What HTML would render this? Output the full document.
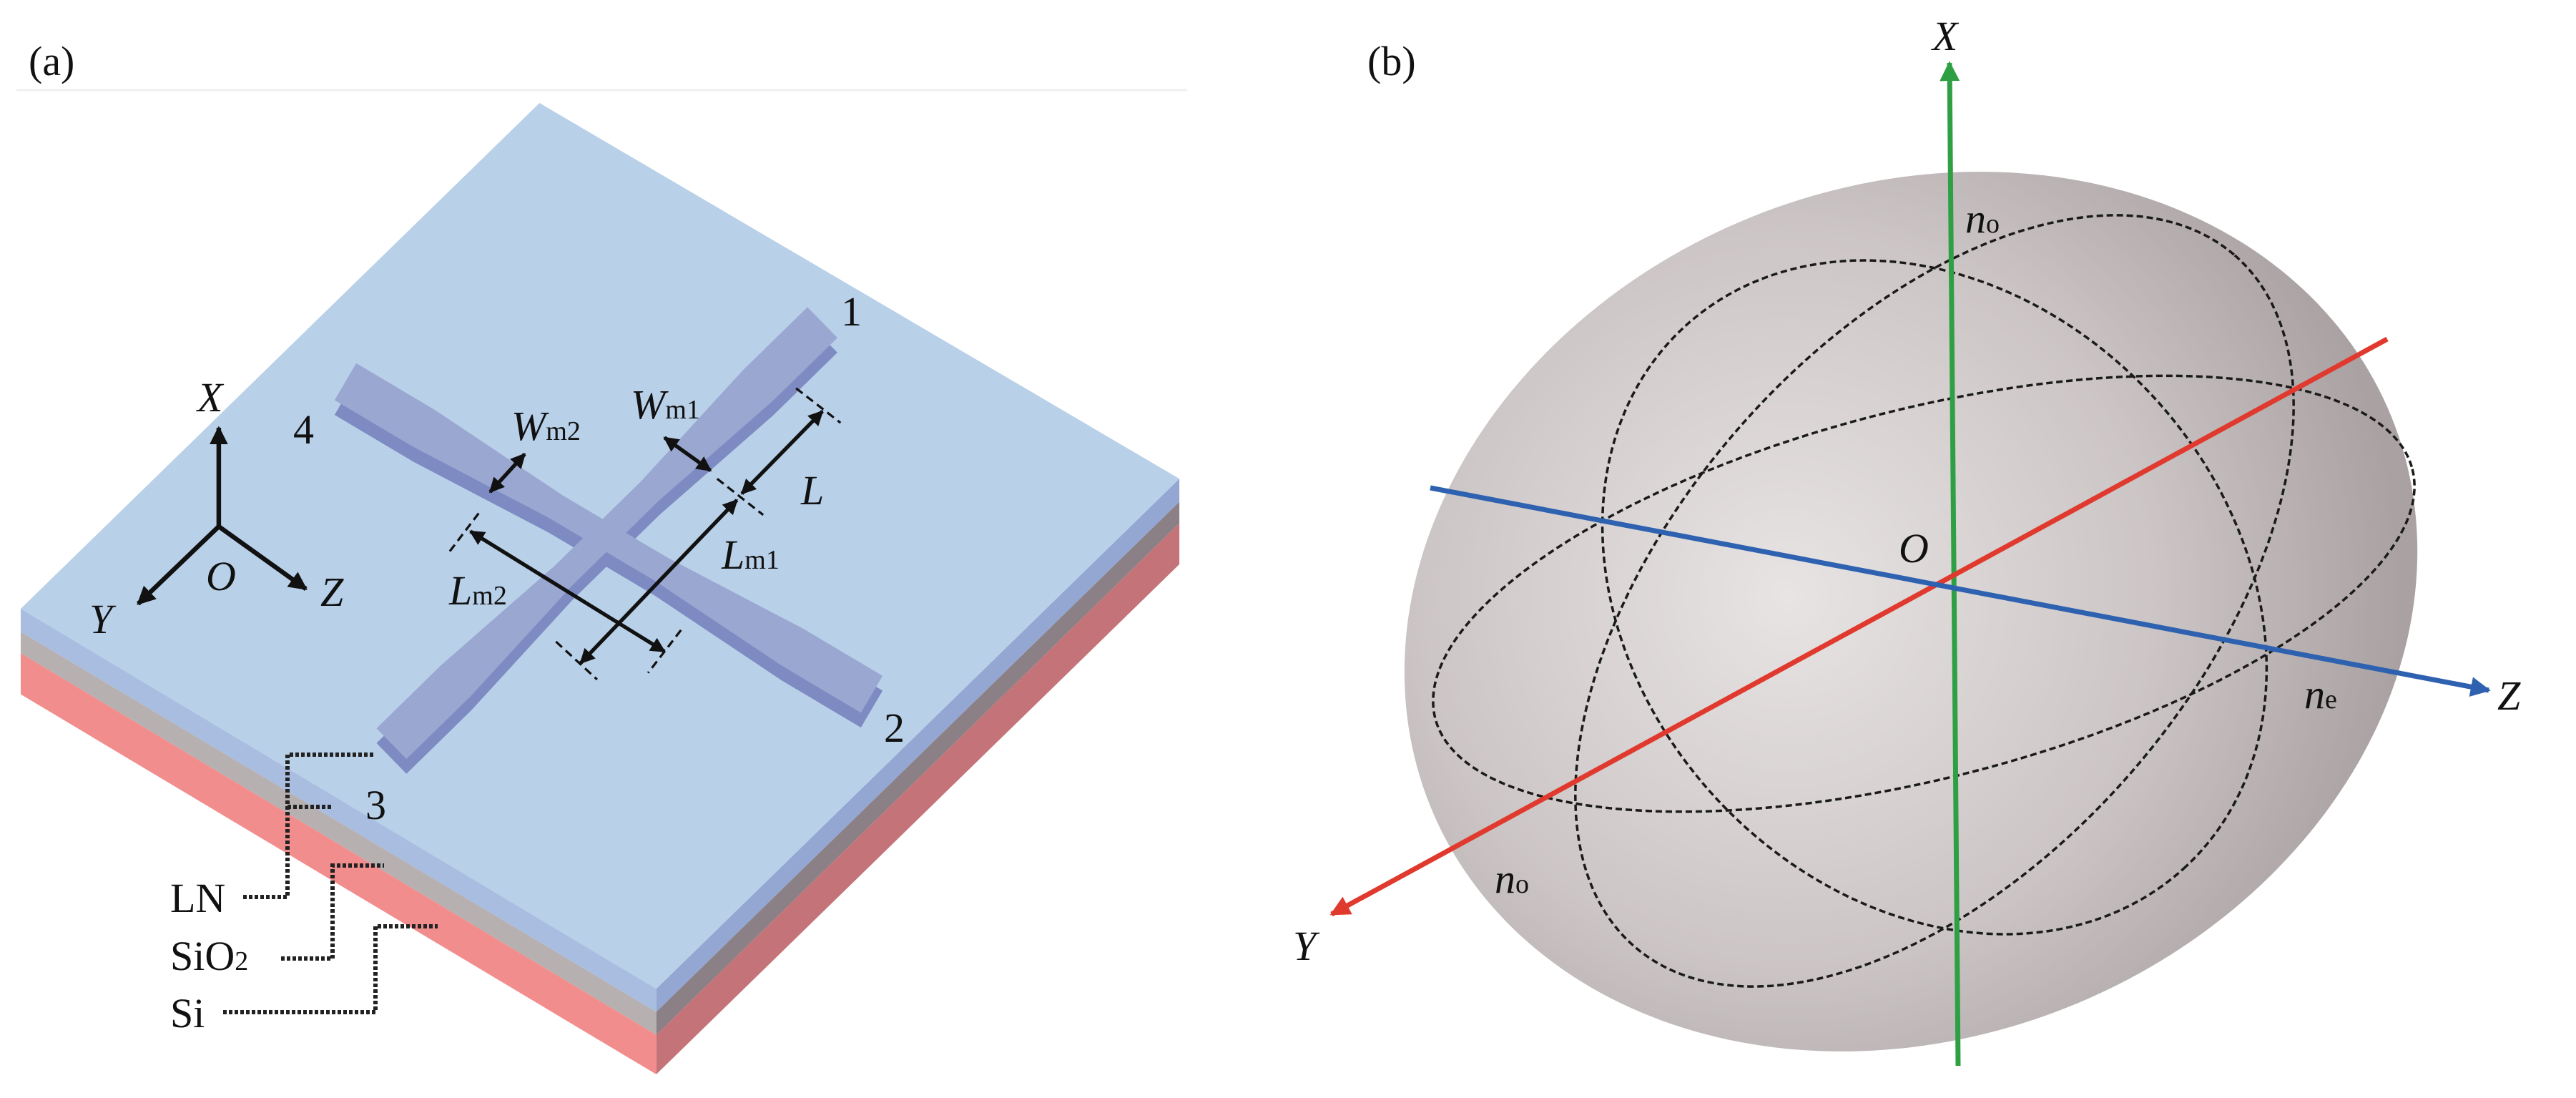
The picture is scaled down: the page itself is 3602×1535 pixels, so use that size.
<!DOCTYPE html>
<html><head><meta charset="utf-8"><style>
html,body{margin:0;padding:0;background:#fff;width:3602px;height:1535px;overflow:hidden}
svg{display:block}
text{font-family:"Liberation Serif",serif;fill:#111}
.i{font-style:italic}
</style></head><body>
<svg width="3602" height="1535" viewBox="0 0 3602 1535" xmlns="http://www.w3.org/2000/svg">
<defs>
<marker id="ah" viewBox="0 0 10 10" refX="9" refY="5" markerWidth="4" markerHeight="4" orient="auto-start-reverse"><path d="M0,0 L10,5 L0,10 z" fill="#111"/></marker>
<marker id="ag" viewBox="0 0 10 10" refX="9" refY="5" markerWidth="4" markerHeight="4" orient="auto"><path d="M0,0 L10,5 L0,10 z" fill="#2ea043"/></marker>
<marker id="ar" viewBox="0 0 10 10" refX="9" refY="5" markerWidth="4" markerHeight="4" orient="auto"><path d="M0,0 L10,5 L0,10 z" fill="#e03a2f"/></marker>
<marker id="ab" viewBox="0 0 10 10" refX="9" refY="5" markerWidth="4" markerHeight="4" orient="auto"><path d="M0,0 L10,5 L0,10 z" fill="#2e62b0"/></marker>
<radialGradient id="sg" cx="2520" cy="770" r="860" gradientUnits="userSpaceOnUse">
<stop offset="0" stop-color="#e8e4e4"/><stop offset="0.6" stop-color="#ccc5c5"/><stop offset="1" stop-color="#aaa2a2"/>
</radialGradient>
</defs>

<line x1="23" y1="126" x2="1660" y2="126" stroke="#f0f0f0" stroke-width="3"/>

<g transform="scale(2.3)">
<polygon points="12.6,384 399,615 399,629 12.6,397" fill="#b7b0b1"/>
<polygon points="399,615 717,305 717,318 399,629" fill="#8b8085"/>
<polygon points="12.6,397 399,629 399,653 12.6,422" fill="#f28d8e"/>
<polygon points="399,629 717,318 717,343 399,653" fill="#c47478"/>
<polygon points="12.6,370 399,601 399,615 12.6,384" fill="#a8bde0"/>
<polygon points="399,601 717,291 717,305 399,615" fill="#94a6d2"/>
<polygon points="328,62.6 717,291 399,601 12.6,370" fill="#b9d0e9"/>

<g transform="translate(0,9)" fill="#7e8bc3">
<polygon points="509.1,205.3 469.8,243.7 400.8,304.1 348.4,355.3 286.4,422.9 247.1,461.3 228.9,442.7 268.2,404.3 337.2,343.9 389.6,292.7 451.6,225.1 490.9,186.7"/>
<polygon points="203.4,243.2 251.4,271.7 333.9,314.9 397.9,352.9 475.4,404.7 523.4,433.2 536.6,410.8 488.6,382.3 406.1,339.1 342.1,301.1 264.6,249.3 216.6,220.8"/>
</g>
<g fill="#99a7d1">
<polygon points="509.1,205.3 469.8,243.7 400.8,304.1 348.4,355.3 286.4,422.9 247.1,461.3 228.9,442.7 268.2,404.3 337.2,343.9 389.6,292.7 451.6,225.1 490.9,186.7"/>
<polygon points="203.4,243.2 251.4,271.7 333.9,314.9 397.9,352.9 475.4,404.7 523.4,433.2 536.6,410.8 488.6,382.3 406.1,339.1 342.1,301.1 264.6,249.3 216.6,220.8"/>
</g>

<g stroke="#111" stroke-width="2.8" fill="none" marker-end="url(#ah)">
<line x1="133" y1="320" x2="133" y2="260"/>
<line x1="133" y1="320" x2="84" y2="367"/>
<line x1="133" y1="320" x2="186" y2="358"/>
</g>
<g stroke="#111" stroke-width="2.3" fill="none" marker-start="url(#ah)" marker-end="url(#ah)">
<line x1="298" y1="299" x2="319" y2="276"/>
<line x1="404" y1="266" x2="432" y2="286"/>
<line x1="451" y1="300" x2="500" y2="250"/>
<line x1="353" y1="403" x2="448" y2="304"/>
<line x1="286" y1="323" x2="404" y2="396"/>
</g>
<g stroke="#111" stroke-width="1.4" stroke-dasharray="5 3" fill="none">
<line x1="436" y1="291" x2="464" y2="313"/>
<line x1="484" y1="236" x2="511" y2="257"/>
<line x1="338" y1="390" x2="363" y2="413"/>
<line x1="291" y1="312" x2="272" y2="337"/>
<line x1="414" y1="383" x2="394" y2="409"/>
</g>
</g>

<g stroke="#222" stroke-width="6" stroke-dasharray="5 3" fill="none">
<polyline points="340,1254 402,1254 402,1055 522,1055"/>
<line x1="402" y1="1128" x2="463" y2="1128"/>
<polyline points="393,1340 465,1340 465,1210 537,1210"/>
<polyline points="312,1415 525,1415 525,1295 612,1295"/>
</g>

<g font-size="58">
<text x="40" y="105">(a)</text>
<text class="i" x="276" y="575">X</text>
<text class="i" x="125" y="885">Y</text>
<text class="i" x="288" y="825">O</text>
<text class="i" x="448" y="847">Z</text>
<text x="410" y="620">4</text>
<text x="1176" y="455">1</text>
<text x="1236" y="1037">2</text>
<text x="511" y="1145">3</text>
<text x="715" y="615"><tspan class="i">W</tspan><tspan font-size="38">m2</tspan></text>
<text x="882" y="585"><tspan class="i">W</tspan><tspan font-size="38">m1</tspan></text>
<text class="i" x="1120" y="705">L</text>
<text x="1009" y="795"><tspan class="i">L</tspan><tspan font-size="38">m1</tspan></text>
<text x="628" y="845"><tspan class="i">L</tspan><tspan font-size="38">m2</tspan></text>
<text x="238" y="1275">LN</text>
<text x="238" y="1356">SiO<tspan font-size="38">2</tspan></text>
<text x="238" y="1436">Si</text>
</g>

<ellipse cx="2672" cy="855" rx="725" ry="595" transform="rotate(-22 2672 855)" fill="url(#sg)"/>
<g stroke="#1a1a1a" stroke-width="3.5" stroke-dasharray="9 5" fill="none">
<ellipse cx="2705" cy="835" rx="515" ry="415" transform="rotate(46.9 2705 835)"/>
<ellipse cx="2705" cy="840" rx="640" ry="365" transform="rotate(-49 2705 840)"/>
<ellipse cx="2690" cy="830" rx="705" ry="258" transform="rotate(-14.3 2690 830)"/>
</g>
<line x1="2738" y1="1490" x2="2726" y2="88" stroke="#2ea043" stroke-width="7" marker-end="url(#ag)"/>
<line x1="3338" y1="474" x2="1862" y2="1278" stroke="#e03a2f" stroke-width="7" marker-end="url(#ar)"/>
<line x1="2000" y1="682" x2="3480" y2="965" stroke="#2e62b0" stroke-width="7" marker-end="url(#ab)"/>

<g font-size="58">
<text x="1912" y="105">(b)</text>
<text class="i" x="2702" y="70">X</text>
<text class="i" x="1808" y="1342">Y</text>
<text class="i" x="3492" y="992">Z</text>
<text class="i" x="2655" y="786">O</text>
<text x="2748" y="325"><tspan class="i">n</tspan><tspan font-size="38">o</tspan></text>
<text x="2090" y="1248"><tspan class="i">n</tspan><tspan font-size="38">o</tspan></text>
<text x="3222" y="990"><tspan class="i">n</tspan><tspan font-size="38">e</tspan></text>
</g>
</svg>
</body></html>
